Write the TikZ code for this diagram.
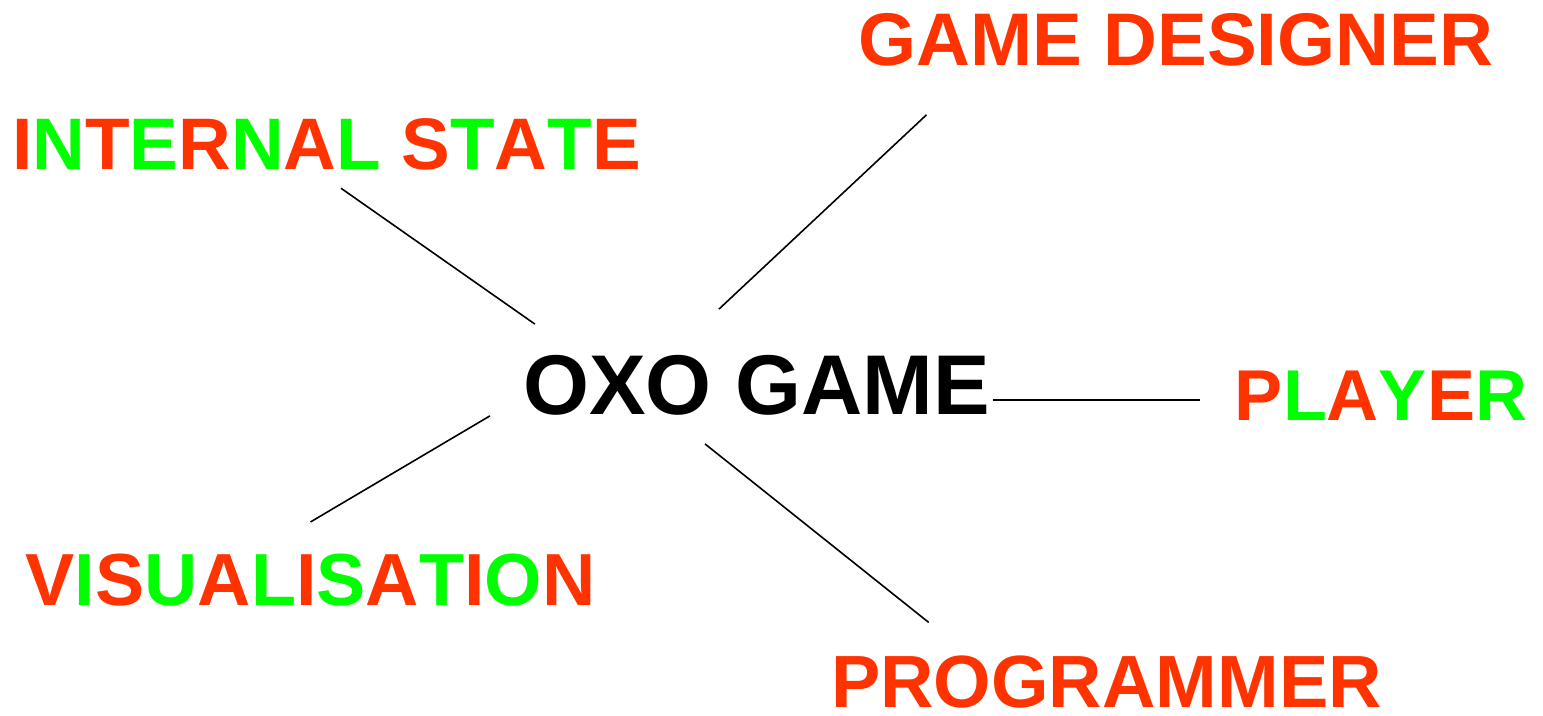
\documentclass[tikz,border=0pt]{standalone}
\usepackage{fontspec}
\setmainfont{Liberation Sans}
\usepackage{tikz}
\definecolor{oxored}{HTML}{FF3300}
\definecolor{oxogreen}{HTML}{00FF00}
\newcommand{\redl}[1]{\textcolor{oxored}{#1}}
\newcommand{\grnl}[1]{\textcolor{oxogreen}{#1}}

\begin{document}
\begin{tikzpicture}[
  x=0.5pt,y=-0.5pt,
  role/.style={inner sep=0pt,font=\bfseries\fontsize{#1}{#1}\selectfont,text=oxored},
  role/.default=36,
  centre/.style={inner sep=0pt,font=\bfseries\fontsize{42.4}{46}\selectfont,text=black},
  link/.style={line width=0.8pt,black}
]
\useasboundingbox (0,0) rectangle (1543,716);
\node[centre] (oxo) at (756.5,385.5) {OXO GAME};
\node[role=36.5] (intstate) at (326.5,144) {\redl{I}\grnl{N}\redl{T}\grnl{E}\redl{R}\grnl{N}\redl{A}\grnl{L} \redl{S}\grnl{T}\redl{A}\grnl{T}\redl{E}};
\node[role=37.3] (designer) at (1176,40) {GAME DESIGNER};
\node[role] (player) at (1381,396) {\redl{P}\grnl{L}\redl{A}\grnl{Y}\redl{E}\grnl{R}};
\node[role=36.9] (visual) at (310.5,580.5) {\redl{V}\grnl{I}\redl{S}\grnl{U}\redl{A}\grnl{L}\redl{I}\grnl{S}\redl{A}\grnl{T}\redl{I}\grnl{O}\redl{N}};
\node[role=37] (programmer) at (1106.5,682) {PROGRAMMER};
\draw[link] ([xshift=7.25pt,yshift=-9pt]intstate.south) -- ([xshift=6pt,yshift=15.5pt]oxo.north west);
\draw[link] ([xshift=-18.75pt,yshift=23pt]oxo.north) -- ([xshift=34pt,yshift=-24pt]designer.south west);
\draw[link] ([xshift=1.5pt,yshift=-7.25pt]oxo.east) -- ([xshift=-17.5pt,yshift=-2pt]player.west);
\draw[link] ([xshift=-16.5pt]oxo.south west) -- ([yshift=16pt]visual.north);
\draw[link] ([xshift=-25.75pt,yshift=-14pt]oxo.south) -- ([xshift=49pt,yshift=16.5pt]programmer.north west);
\end{tikzpicture}
\end{document}
